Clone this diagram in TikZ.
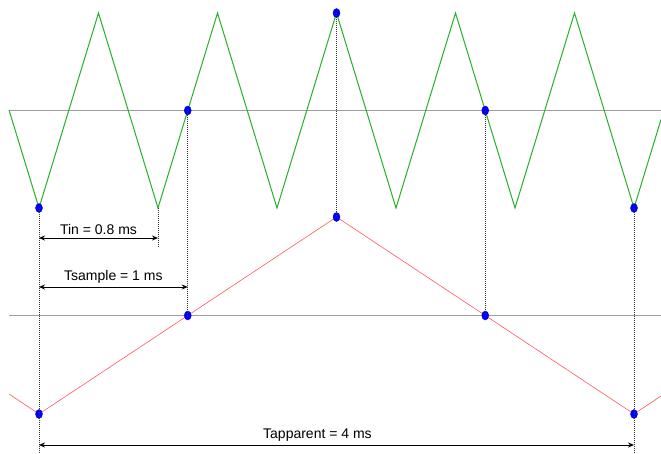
\documentclass[tikz,border=0pt]{standalone}
\usepackage{fontspec}
\setmainfont{Liberation Sans}
\usetikzlibrary{arrows.meta, shapes.geometric}

\definecolor{inwave}{RGB}{40,175,40}
\definecolor{aliaswave}{RGB}{255,90,90}

\tikzset{
    sample/.style={shape=ellipse, fill=blue, draw=blue!80!black, line width=0.4pt,
        minimum width=7pt, minimum height=9pt, inner sep=0pt},
    guide/.style={black!80, line width=0.9pt, dash pattern=on 1pt off 1pt},
    midline/.style={black!38, line width=1.4pt},
    span/.style={<->, >={Stealth[length=6pt, width=5pt]}, line width=1pt},
    spanlabel/.style={font=\fontsize{14}{16}\selectfont, above, inner sep=3pt}
}

\begin{document}
\begin{tikzpicture}[x=1pt, y=-1pt]
    \useasboundingbox (0,0) rectangle (661,453);

    % Horizontal reference lines
    \draw[midline] (9,110.5) -- (661,110.5);
    \draw[midline] (9,315.5) -- (661,315.5);

    % Input wave (period 0.8 ms)
    \draw[inwave, line width=1pt] (9,110)
        \foreach \k in {0,...,4} { -- ({39+119*\k},208) -- ({98.5+119*\k},13) }
        -- (634,208) -- (661,119.5);

    % Apparent wave (period 4 ms)
    \draw[aliaswave, line width=0.6pt] (9,394) -- (39,414) -- (336.5,217) -- (634,414) -- (661,396);

    % Sample points
    \node[sample] (g1) at (39,208) {};
    \node[sample] (g2) at (187.75,110.5) {};
    \node[sample] (g3) at (336.5,13) {};
    \node[sample] (g4) at (485.25,110.5) {};
    \node[sample] (g5) at (634,208) {};
    \node[sample] (r1) at (39,414) {};
    \node[sample] (r2) at (187.75,315.5) {};
    \node[sample] (r3) at (336.5,217) {};
    \node[sample] (r4) at (485.25,315.5) {};
    \node[sample] (r5) at (634,414) {};
    \coordinate (t1) at (158,208);
    \coordinate (t2) at (158,247);
    \coordinate (b1) at (39,453);
    \coordinate (b5) at (634,453);

    % Sampling guides
    \draw[guide] (g1.center) -- (b1);
    \draw[guide] (g5.center) -- (b5);
    \foreach \i in {2,3,4}
        \draw[guide] (g\i.center) -- (r\i.center);
    \draw[guide] (t1) -- (t2);

    % Periods
    \coordinate (a1) at (39,238);
    \coordinate (a2) at (158,238);
    \coordinate (a3) at (39,287);
    \coordinate (a4) at (187.75,287);
    \coordinate (a5) at (39,445);
    \coordinate (a6) at (634,445);
    \draw[span] (a1) -- node[spanlabel] {Tin = 0.8 ms} (a2);
    \draw[span] (a3) -- node[spanlabel] {Tsample = 1 ms} (a4);
    \draw[span] (a5) -- node[spanlabel, pos=0.468] {Tapparent = 4 ms} (a6);
\end{tikzpicture}
\end{document}
